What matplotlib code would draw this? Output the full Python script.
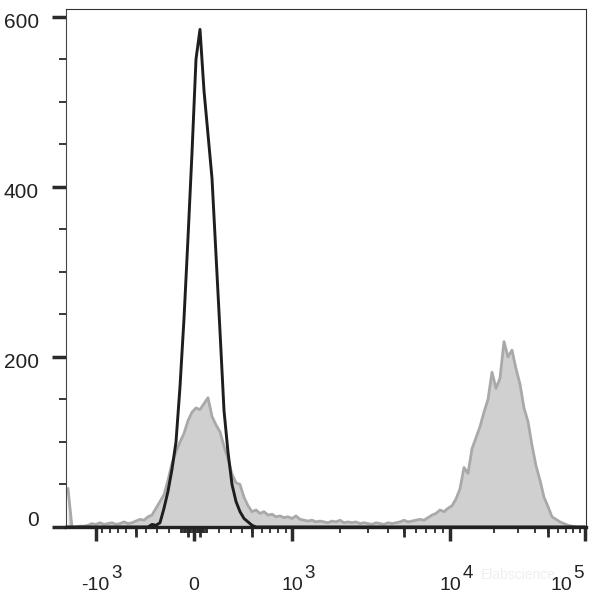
import numpy as np
import matplotlib
matplotlib.use("Agg")
import matplotlib.pyplot as plt
from matplotlib.ticker import FixedLocator, NullFormatter
from matplotlib.transforms import offset_copy, blended_transform_factory

plt.rcParams['font.family'] = ['Liberation Sans', 'DejaVu Sans']

# biexponential display parameters (display units ~ axis pixels, 0 at value 0)
LIN_WIDTH = 650.0
SLOPE = 84.24
BEND = 2.786

# histogram channels: 130 display channels, 4 units wide, starting at -128
n_channels = 130
chan_start = -128
chan_width = 4

# counts per channel, gray = stained sample, black = control
gray_counts = [45, 0, 0, 1, 1, 2, 4, 3, 5, 3,
               4, 5, 3, 4, 6, 4, 5, 7, 9, 8,
               12, 14, 22, 30, 38, 55, 75, 88, 100, 110,
               125, 135, 140, 138, 145, 152, 130, 120, 112, 95,
               80, 62, 52, 50, 35, 25, 18, 20, 16, 18,
               14, 15, 12, 13, 11, 12, 10, 13, 9, 8,
               7, 8, 6, 7, 6, 5, 7, 6, 8, 5,
               6, 5, 6, 4, 5, 4, 3, 5, 4, 3,
               5, 4, 5, 6, 8, 6, 7, 8, 9, 8,
               11, 14, 16, 20, 18, 22, 25, 33, 45, 70,
               63, 92, 105, 118, 135, 150, 182, 163, 175, 218,
               200, 208, 186, 168, 140, 124, 96, 72, 55, 35,
               24, 12, 9, 6, 4, 2, 1, 0, 0, 0]

black_counts = ([0] * 21 +
                [3, 2, 5, 22, 42, 68, 100, 165, 245, 340,
                 440, 550, 585, 513, 462, 410, 320, 230, 137, 88,
                 50, 30, 18, 10, 6, 2] +
                [0] * 83)

y_major = [0, 200, 400, 600]
x_major = [-1000, 0, 1000, 10000, 100000]
x_labels = [("-10", "3"), ("0", ""), ("10", "3"), ("10", "4"), ("10", "5")]


def fwd(x):
    s = np.arcsinh(np.asarray(x, dtype=float) / LIN_WIDTH)
    return SLOPE * s - BEND * s * np.abs(s)


def inv(d):
    d = np.asarray(d, dtype=float)
    disc = np.clip(SLOPE ** 2 - 4 * BEND * np.abs(d), 0, None)
    s = np.sign(d) * (SLOPE - np.sqrt(disc)) / (2 * BEND)
    return LIN_WIDTH * np.sinh(s)


centers = chan_start + chan_width * (np.arange(n_channels) + 0.5)
xvals = inv(centers)

fig = plt.figure(figsize=(6, 5.96), dpi=100)
ax = fig.add_axes([66 / 600, 69 / 596, 520 / 600, 518 / 596])
ax.set_xscale('function', functions=(fwd, inv))

ax.fill_between(xvals, gray_counts, 0, color='#d0d0d0', lw=0, zorder=2)
ax.plot(xvals, gray_counts, color='#a9a9a9', lw=2.0, zorder=2.5)
ax.plot(xvals, black_counts, color='#1e1e1e', lw=2.1, zorder=3)

ax.set_xlim(inv(chan_start), inv(chan_start + chan_width * n_channels))
ax.set_ylim(0, 609)

for side in ('top', 'right'):
    ax.spines[side].set_linewidth(0.8)
    ax.spines[side].set_color('#333333')
ax.spines['left'].set_linewidth(0.8)
ax.spines['left'].set_color('#444444')
ax.spines['bottom'].set_linewidth(2.4)
ax.spines['bottom'].set_color('#222222')

# ticks
ax.yaxis.set_major_locator(FixedLocator(y_major))
ax.yaxis.set_minor_locator(FixedLocator(list(range(50, 609, 50))))
ax.xaxis.set_major_locator(FixedLocator(x_major))
minor = []
for n in (1, 2):
    minor += [m * 10 ** n for m in range(1, 10)]
    minor += [-m * 10 ** n for m in range(1, 10)]
for n in (3, 4):
    minor += [m * 10 ** n for m in range(2, 10)]
ax.xaxis.set_minor_locator(FixedLocator(minor))
ax.xaxis.set_major_formatter(NullFormatter())
ax.xaxis.set_minor_formatter(NullFormatter())
ax.yaxis.set_major_formatter(NullFormatter())
ax.tick_params(which='major', direction='out', length=10, width=2.5, color='#2a2a2a')
ax.tick_params(which='minor', direction='out', length=4.5, width=1.3, color='#2a2a2a')
ax.tick_params(axis='y', which='minor', length=5, width=1.3)

# half-decade ticks, a bit longer
mid_ticks = [-500, -50, 50, 500, 5000, 50000]
ax.vlines(mid_ticks, -10 / 518, 0, transform=ax.get_xaxis_transform(),
          clip_on=False, lw=2.0, color='#2a2a2a')

# y labels
trans_y = blended_transform_factory(ax.transAxes, ax.transData)
for v in y_major:
    dy = 7 if v == 0 else -6
    ax.text(0, v, str(v), transform=offset_copy(trans_y, fig=fig, x=-27, y=dy, units='dots'),
            ha='right', va='center', fontsize=15, color='#222222')

# x labels
trans_x = ax.get_xaxis_transform()
for v, (base, exp) in zip(x_major, x_labels):
    dx = -24 if v == 100000 else 0
    t = ax.text(v, 0, base, transform=offset_copy(trans_x, fig=fig, x=dx, y=-59, units='dots'),
                ha='center', va='center', fontsize=14, color='#222222')
    if exp:
        ax.annotate(exp, xy=(1, 1), xycoords=t, xytext=(1, 3), textcoords='offset points',
                    ha='left', va='center', fontsize=13.5, color='#222222')

fig.text(518 / 600, 1 - 575 / 596, 'Elabscience', color='#efefef', fontsize=10,
         ha='center', va='center')

fig.savefig('out.png', dpi=100)
